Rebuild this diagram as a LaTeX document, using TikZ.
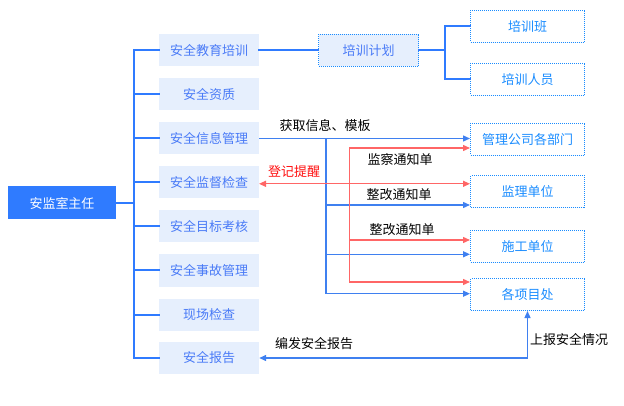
\documentclass[tikz,border=0pt]{standalone}
\usepackage{fontspec}
\newfontfamily\cjk{Noto Sans CJK SC}
\usetikzlibrary{arrows.meta}
\definecolor{trunk}{HTML}{2F7BFF}
\definecolor{lfill}{HTML}{E6EFFD}
\definecolor{ltext}{HTML}{4A7BF7}
\definecolor{rblue}{HTML}{1A8CFF}
\definecolor{cblue}{HTML}{3F80F0}
\definecolor{cred}{HTML}{FF6666}
\definecolor{redtext}{HTML}{FF1010}
\tikzset{
 root/.style={fill=trunk, text=white, minimum width=108pt, minimum height=33pt, inner sep=0pt},
 lbox/.style={fill=lfill, text=ltext, minimum width=100pt, minimum height=32pt, inner sep=0pt},
 rbox/.style={draw=rblue, densely dotted, line width=1pt, text=rblue, minimum width=114pt, minimum height=32pt, inner sep=0pt},
 pbox/.style={rbox, fill=lfill, text=ltext, minimum width=100pt},
 tline/.style={draw=trunk, line width=2pt, line cap=rect},
 conn/.style={line width=1.3pt},
 bcon/.style={conn, draw=cblue, -{Triangle[length=7pt,width=6pt]}},
 rcon/.style={conn, draw=cred, -{Triangle[length=7pt,width=6pt]}},
 lab/.style={inner sep=0pt, text=black},
}
\begin{document}
\begin{tikzpicture}[x=1pt,y=-1pt,font=\cjk\fontsize{13}{15}\selectfont]
\useasboundingbox (0,0) rectangle (624,406);
% nodes
\node[root] (root) at (62,203) {安监室主任};
\node[lbox] (l1) at (209,50.5) {安全教育培训};
\node[lbox] (l2) at (209,94.5) {安全资质};
\node[lbox] (l3) at (209,138.5) {安全信息管理};
\node[lbox] (l4) at (209,182.5) {安全监督检查};
\node[lbox] (l5) at (209,226.5) {安全目标考核};
\node[lbox] (l6) at (209,270.5) {安全事故管理};
\node[lbox] (l7) at (209,314.5) {现场检查};
\node[lbox] (l8) at (209,358) {安全报告};
\node[pbox] (p1) at (368.5,50.5) {培训计划};
\node[rbox] (r1) at (527.5,26.3) {培训班};
\node[rbox] (r2) at (527.5,79.3) {培训人员};
\node[rbox] (r3) at (527.5,139.5) {管理公司各部门};
\node[rbox] (r4) at (527.5,192) {监理单位};
\node[rbox] (r5) at (527.5,246.3) {施工单位};
\node[rbox] (r6) at (527.5,294.5) {各项目处};
% trunk
\coordinate (tk) at (134,0);
\draw[tline] (root.east) -- (root.east -| tk);
\draw[tline] (l1.west -| tk) -- (l8.west -| tk);
\foreach \n in {l1,l2,l3,l4,l5,l6,l7,l8}{\draw[tline] (\n.west -| tk) -- (\n.west);}
% training bracket
\coordinate (bx) at (444.7,0);
\draw[tline] (l1.east) -- (p1.west);
\draw[tline] (p1.east) -- (p1.east -| bx);
\draw[tline] (r1.west) -- (r1.west -| bx) -- (r2.west -| bx) -- (r2.west);
% blue connectors
\coordinate (bt) at (326,138.5);
\coordinate (b4) at (326,205);
\coordinate (b5) at (326,254.3);
\coordinate (b6) at (326,293.7);
\draw[bcon] (l3.east) -- (l3.east -| r3.west);
\draw[conn, draw=cblue] (bt) -- (b6);
\draw[bcon] (b4) -- (b4 -| r4.west);
\draw[bcon] (b5) -- (b5 -| r5.west);
\draw[bcon] (b6) -- (b6 -| r6.west);
% red connectors
\coordinate (c3) at (349.3,148);
\coordinate (c5) at (349.3,240);
\coordinate (c6) at (349.3,282);
\draw[conn, draw=cred] (c3) -- (c6);
\draw[rcon] (c3) -- (c3 -| r3.west);
\draw[rcon] (c5) -- (c5 -| r5.west);
\draw[rcon] (c6) -- (c6 -| r6.west);
\coordinate (dl) at (259,183.8);
\draw[conn, draw=cred, {Triangle[length=7pt,width=6pt]}-{Triangle[length=7pt,width=6pt]}] (dl) -- (dl -| r4.west);
% report
\draw[conn, draw=cblue, {Triangle[length=7pt,width=6pt]}-{Triangle[length=7pt,width=6pt]}] (l8.east) -| (r6.south);
% labels
\node[lab] (t1) at (325,125.7) {获取信息、模板};
\node[lab, text=redtext] (t2) at (294,171.7) {登记提醒};
\node[lab] (t3) at (400,160) {监察通知单};
\node[lab] (t4) at (399,195) {整改通知单};
\node[lab] (t5) at (402,229.3) {整改通知单};
\node[lab] (t6) at (314,344) {编发安全报告};
\node[lab] (t7) at (569,340) {上报安全情况};
\end{tikzpicture}
\end{document}
